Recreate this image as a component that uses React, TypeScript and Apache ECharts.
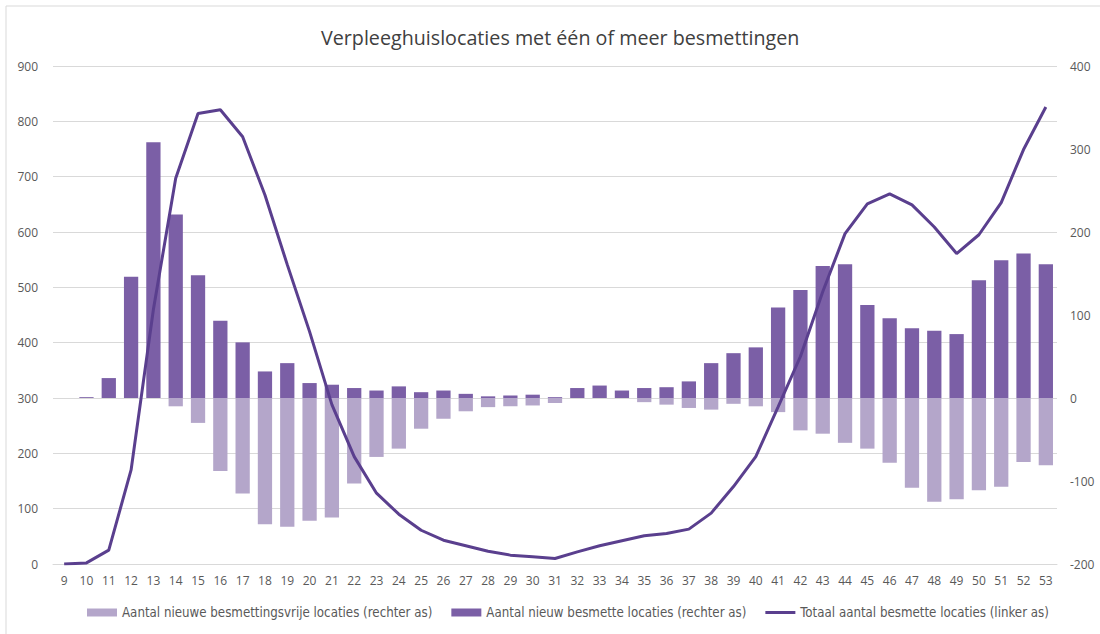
import React, { useEffect, useRef } from "react";
import * as echarts from "echarts";

const weeks = ["9","10","11","12","13","14","15","16","17","18","19","20","21","22","23","24","25","26","27","28","29","30","31","32","33","34","35","36","37","38","39","40","41","42","43","44","45","46","47","48","49","50","51","52","53"];

// Aantal nieuwe besmettingsvrije locaties (rechter as)
const freeNew = [0,0,0,0,0,-10,-30,-88,-115,-152,-155,-148,-144,-103,-71,-61,-37,-25,-16,-11,-10,-9,-6,0,0,0,-5,-8,-12,-14,-7,-10,-17,-39,-43,-54,-61,-78,-108,-125,-122,-111,-107,-77,-81];

// Aantal nieuw besmette locaties (rechter as)
const infectedNew = [0,1,24,146,308,221,148,93,67,32,42,18,16,12,9,14,7,9,5,2,3,4,1,12,15,9,12,13,20,42,54,61,109,130,159,161,112,96,84,81,77,142,166,174,161];

// Totaal aantal besmette locaties (linker as)
const totalInfected = [0,2,25,170,460,697,814,821,772,667,541,420,288,194,128,90,61,43,33,23,16,13,10,22,33,42,51,55,63,92,140,194,284,375,492,597,651,669,649,609,561,595,653,749,826];

const leftTicks = { min: 0, max: 900, interval: 100 };
const rightTicks = { min: -200, max: 400, interval: 100 };

export default function App() {
  const ref = useRef<HTMLDivElement>(null);
  useEffect(() => {
    if (!ref.current) return;
    const chart = echarts.init(ref.current, null, { renderer: "svg" });
    const font = "'Open Sans', sans-serif";
    chart.setOption({
      animation: false,
      backgroundColor: "#ffffff",
      textStyle: { fontFamily: font },
      title: {
        text: "Verpleeghuislocaties met één of meer besmettingen",
        left: 316,
        top: 22,
        textStyle: { fontFamily: font, fontSize: 19.7, fontWeight: "normal", color: "#404040" },
      },
      graphic: [
        {
          type: "rect",
          shape: { x: 6, y: 6, width: 1110, height: 640 },
          style: { fill: "none", stroke: "#d9d9d9", lineWidth: 1 },
          silent: true,
        },
      ],
      legend: {
        bottom: 10,
        left: 82,
        itemWidth: 30,
        itemHeight: 8,
        itemGap: 19,
        textStyle: { fontFamily: "'DejaVu Sans Condensed', 'DejaVu Sans', sans-serif", fontSize: 13.2, color: "#595959" },
        data: [
          { name: "Aantal nieuwe besmettingsvrije locaties (rechter as)", icon: "rect" },
          { name: "Aantal nieuw besmette locaties (rechter as)", icon: "rect" },
          { name: "Totaal aantal besmette locaties (linker as)", icon: "path://M0,0 M30,8 M0,2.5h30v3h-30z" },
        ],
      },
      grid: { left: 53, right: 43, top: 66, bottom: 70, containLabel: false },
      xAxis: {
        type: "category",
        data: weeks,
        boundaryGap: true,
        axisLine: { show: true, lineStyle: { color: "#d9d9d9" } },
        axisTick: { show: false },
        axisLabel: { color: "#595959", fontSize: 12, margin: 10, interval: 0, fontFamily: font },
      },
      yAxis: [
        {
          type: "value",
          ...leftTicks,
          position: "left",
          axisLine: { show: false },
          axisTick: { show: false },
          splitLine: { lineStyle: { color: "#d9d9d9" } },
          axisLabel: { color: "#595959", fontSize: 12, margin: 15, fontFamily: font },
        },
        {
          type: "value",
          ...rightTicks,
          position: "right",
          axisLine: { show: false },
          axisTick: { show: false },
          splitLine: { show: false },
          axisLabel: { color: "#595959", fontSize: 12, margin: 13, fontFamily: font },
        },
      ],
      series: [
        {
          name: "Aantal nieuwe besmettingsvrije locaties (rechter as)",
          type: "bar",
          yAxisIndex: 1,
          stack: "bars",
          barWidth: "64%",
          itemStyle: { color: "#b4a6ca" },
          data: freeNew,
        },
        {
          name: "Aantal nieuw besmette locaties (rechter as)",
          type: "bar",
          yAxisIndex: 1,
          stack: "bars",
          barWidth: "64%",
          itemStyle: { color: "#7b5fa6" },
          data: infectedNew,
        },
        {
          name: "Totaal aantal besmette locaties (linker as)",
          type: "line",
          yAxisIndex: 0,
          symbol: "none",
          lineStyle: { color: "#5a3f8e", width: 3 },
          itemStyle: { color: "#5a3f8e" },
          data: totalInfected,
          z: 5,
        },
      ],
    });
    return () => chart.dispose();
  }, []);
  return (
    <div
      ref={ref}
      style={{ position: "fixed", left: 0, top: 0, width: 1100, height: 634 }}
    />
  );
}
